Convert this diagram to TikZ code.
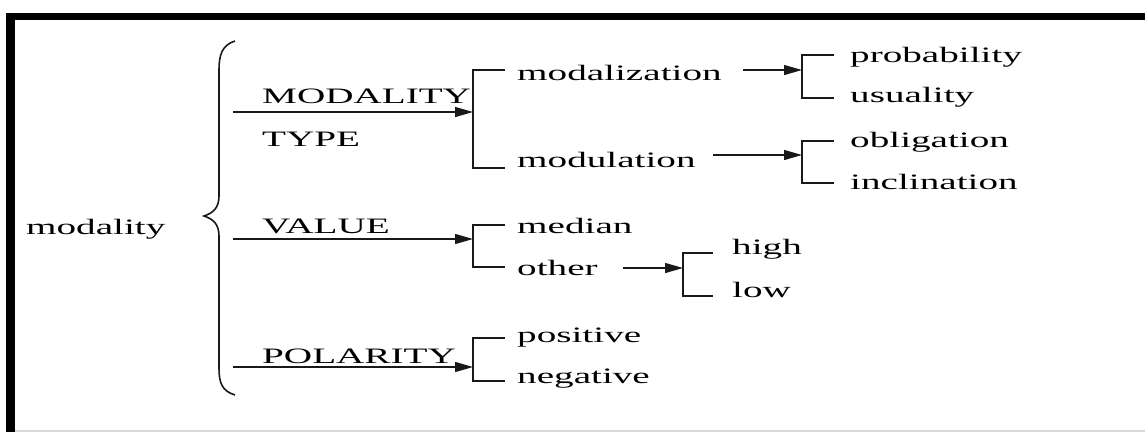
\documentclass[tikz,border=0pt]{standalone}
\usepackage{fontspec}
\setmainfont[FakeStretch=1.78]{Liberation Serif}
\usetikzlibrary{arrows.meta}
\begin{document}
\begin{tikzpicture}[x=1pt,y=-1pt,
  lbl/.style={anchor=base west,inner sep=0pt,font=\fontsize{22}{26}\selectfont},
  ln/.style={line width=1.3pt,black!90},
  arr/.style={ln,-{Triangle[length=18pt,width=10pt]}},
  brk/.style={ln,line cap=butt}]
\useasboundingbox (0,0) rectangle (1145,432);
% frame
\fill[black] (6,13) rectangle (1145,20);
\fill[black] (6,13) rectangle (15,432);
\fill[black!15] (15,430) rectangle (1145,432);
% brace
\draw[line width=1.6pt,black!90] (235,41) .. controls (222,45) and (219,55) .. (219,70)
  -- (219,196) .. controls (219,208) and (213,213) .. (204,216)
  .. controls (213,219) and (219,224) .. (219,236)
  -- (219,368) .. controls (219,383) and (222,391) .. (235,395);
% texts
\node[lbl] (modality) at (26,234) {modality};
\node[lbl] (mtype) at (262,103) {MODALITY};
\node[lbl] (type) at (262,146) {TYPE};
\node[lbl] (value) at (262,233) {VALUE};
\node[lbl] (polarity) at (262,363) {POLARITY};
\node[lbl] (modalization) at (517,80) {modalization};
\node[lbl] (modulation) at (517,167) {modulation};
\node[lbl] (median) at (517,233) {median};
\node[lbl] (other) at (517,275) {other};
\node[lbl] (positive) at (517,342) {positive};
\node[lbl] (negative) at (517,383) {negative};
\node[lbl] (high) at (732,254) {high};
\node[lbl] (low) at (732,297) {low};
\node[lbl] (probability) at (850,62) {probability};
\node[lbl] (usuality) at (850,102) {usuality};
\node[lbl] (obligation) at (850,147) {obligation};
\node[lbl] (inclination) at (850,189) {inclination};
% coordinates
\coordinate (s1) at (233,112); \coordinate (b1) at (473,112);
\coordinate (s2) at (233,239); \coordinate (b2) at (473,239);
\coordinate (s3) at (233,367); \coordinate (b3) at (473,367);
\coordinate (s4) at (743,70);  \coordinate (b4) at (802,70);
\coordinate (s5) at (713,155); \coordinate (b5) at (802,155);
\coordinate (s6) at (623,268); \coordinate (b6) at (683,268);
% arrows
\draw[arr] (s1) -- (b1);
\draw[arr] (s2) -- (b2);
\draw[arr] (s3) -- (b3);
\draw[arr] (s4) -- (b4);
\draw[arr] (s5) -- (b5);
\draw[arr] (s6) -- (b6);
% brackets
\draw[brk] (505,70) -- (473,70) -- (473,168) -- (505,168);
\draw[brk] (505,225) -- (473,225) -- (473,267) -- (505,267);
\draw[brk] (505,338) -- (473,338) -- (473,381) -- (505,381);
\draw[brk] (834,55) -- (802,55) -- (802,98) -- (834,98);
\draw[brk] (834,141) -- (802,141) -- (802,183) -- (834,183);
\draw[brk] (713,253) -- (683,253) -- (683,296) -- (713,296);
\end{tikzpicture}
\end{document}
